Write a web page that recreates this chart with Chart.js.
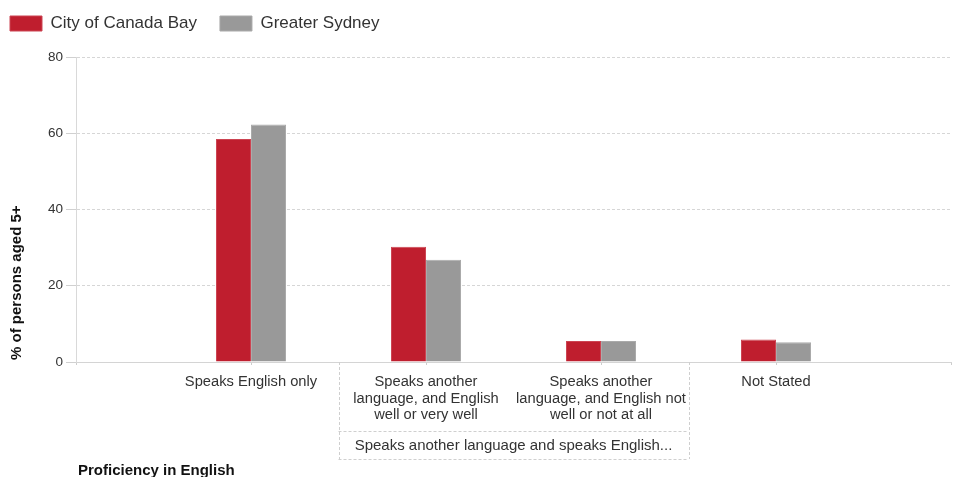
<!DOCTYPE html>
<html>
<head>
<meta charset="utf-8">
<script src="https://cdn.jsdelivr.net/npm/chart.js@4/dist/chart.umd.min.js"></script>
<style>
html,body{margin:0;padding:0;background:#fff;}
#wrap{width:953px;height:477px;position:relative;}
</style>
</head>
<body>
<div id="wrap"><canvas id="c" width="953" height="477"></canvas></div>
<script>
const categories = ['', 'Speaks English only', ['Speaks another', 'language, and English', 'well or very well'], ['Speaks another', 'language, and English not', 'well or not at all'], 'Not Stated', ''];
const canadaBay = [null, 58.5, 30.2, 5.5, 5.9, null];
const greaterSydney = [null, 62.3, 26.8, 5.5, 5.2, null];
const yTicks = [0, 20, 40, 60, 80];
const groupLabel = 'Speaks another language and speaks English...';
const xTitle = 'Proficiency in English';
const yTitle = '% of persons aged 5+';

const FONT = "'Liberation Sans', Arial, sans-serif";
const TXT = '#333333';

const extras = {
  id: 'extras',
  afterLayout(chart) {
    const lg = chart.legend;
    if (lg) { lg.left -= 13; lg.top -= 15; lg.bottom -= 15; }
  },
  afterDraw(chart) {
    const ctx = chart.ctx;
    const x = chart.scales.x;
    const a = chart.chartArea;
    const l = x.getPixelForValue(1.5), r = x.getPixelForValue(3.5);
    const top = a.bottom, bot = 459, mid = 431;
    ctx.save();
    ctx.strokeStyle = '#cfcfcf';
    ctx.lineWidth = 1;
    ctx.setLineDash([3, 2]);
    ctx.beginPath();
    ctx.moveTo(Math.round(l) + 0.5, top); ctx.lineTo(Math.round(l) + 0.5, bot);
    ctx.moveTo(Math.round(r) + 0.5, top); ctx.lineTo(Math.round(r) + 0.5, bot);
    ctx.moveTo(l, bot + 0.5); ctx.lineTo(r, bot + 0.5);
    ctx.moveTo(l, mid + 0.5); ctx.lineTo(r, mid + 0.5);
    ctx.stroke();
    ctx.setLineDash([]);
    ctx.fillStyle = TXT;
    ctx.font = '15px ' + FONT;
    ctx.textAlign = 'center';
    ctx.textBaseline = 'middle';
    ctx.fillText(groupLabel, (l + r) / 2, 446);
    ctx.fillStyle = '#111';
    ctx.font = 'bold 15px ' + FONT;
    ctx.textAlign = 'left';
    ctx.textBaseline = 'alphabetic';
    ctx.fillText(xTitle, 78, 475);
    ctx.translate(21, 360);
    ctx.rotate(-Math.PI / 2);
    ctx.fillText(yTitle, 0, 0);
    ctx.restore();
  }
};

new Chart(document.getElementById('c'), {
  type: 'bar',
  data: {
    labels: categories,
    datasets: [
      { label: 'City of Canada Bay', data: canadaBay, backgroundColor: '#bf1e2e', borderColor: '#cc4452', borderWidth: 1, categoryPercentage: 0.4, barPercentage: 1 },
      { label: 'Greater Sydney', data: greaterSydney, backgroundColor: '#999999', borderColor: '#aaaaaa', borderWidth: 1, categoryPercentage: 0.4, barPercentage: 1 }
    ]
  },
  options: {
    responsive: false,
    animation: false,
    devicePixelRatio: 1,
    layout: { padding: { left: 0, right: 2, top: 7, bottom: 0 } },
    plugins: {
      legend: {
        position: 'top',
        align: 'start',
        labels: {
          boxWidth: 32, boxHeight: 15, padding: 23,
          color: TXT, font: { family: FONT, size: 17 }
        }
      },
      tooltip: { enabled: false },
      title: { display: false }
    },
    scales: {
      x: {
        offset: false,
        grid: { display: true, offset: false, drawOnChartArea: false, drawTicks: true, tickLength: 5, tickColor: '#cccccc', tickBorderDash: [2, 2] },
        border: { display: true, color: '#d4d4d4' },
        ticks: { color: TXT, font: { family: FONT, size: 14.7, lineHeight: 1.11 }, padding: 7, maxRotation: 0, autoSkip: false },
        afterFit(s) { s.height = 115; s.paddingRight = 0; s.paddingLeft = 0; }
      },
      y: {
        min: 0, max: 80,
        afterBuildTicks(s) { s.ticks = yTicks.map(v => ({ value: v })); },
        grid: { color: '#d6d6d6', tickLength: 10, tickColor: '#d0d0d0', tickBorderDash: [] },
        border: { display: true, color: '#d9d9d9', dash: [3, 2] },
        ticks: { color: TXT, font: { family: FONT, size: 13.5 }, padding: 3 },
        afterFit(s) { s.width = 76; }
      }
    }
  },
  plugins: [extras]
});
</script>
</body>
</html>
